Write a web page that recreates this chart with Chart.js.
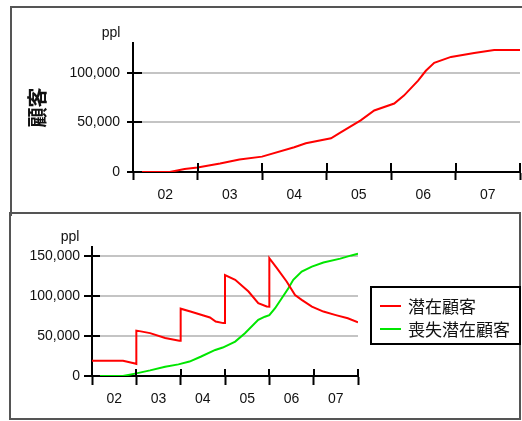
<!DOCTYPE html>
<html lang="ja">
  <head>
    <meta charset="UTF-8" />
    <title>顧客</title>
    <style>
      html, body {
        margin: 0;
        padding: 0;
        background: #fff;
      }
      body {
        position: relative;
        width: 522px;
        height: 421px;
        overflow: hidden;
      }
      canvas {
        position: absolute;
        left: 0;
      }
      #topChart { top: 0; }
      #bottomChart { top: 213px; }

      .panel {
        position: absolute;
        border: 2px solid #555;
        box-sizing: border-box;
        pointer-events: none;
      }
      #topPanel { left: 10px; top: 6px; width: 560px; height: 210px; border-bottom: none; }
      #bottomPanel { left: 9px; top: 212px; width: 512px; height: 208px; }

      #legend {
        position: absolute;
        left: 370px;
        top: 286px;
        width: 151px;
        height: 59px;
        border: 2px solid #000;
        box-sizing: border-box;
        padding-top: 6px;
        font-family: "Noto Sans CJK JP", sans-serif;
        font-size: 17px;
        color: #111;
      }
      #legend .row {
        display: flex;
        align-items: center;
        height: 23px;
      }
      #legend .swatch {
        display: inline-block;
        width: 21px;
        height: 2px;
        margin-left: 8px;
        margin-right: 7px;
      }
    </style>
  </head>

  <body>
    <canvas id="topChart" width="522" height="212"></canvas>
    <canvas id="bottomChart" width="522" height="208"></canvas>
    <div class="panel" id="topPanel"></div>
    <div class="panel" id="bottomPanel"></div>
    <div id="legend"></div>

    <script src="https://cdn.jsdelivr.net/npm/chart.js@4/dist/chart.umd.min.js"></script>

    <script>
      // period labels, centred between the tick marks
      const xLabels = ["02", "03", "04", "05", "06", "07"];

      // y tick values of each chart
      const topYTicks = [0, 50000, 100000];
      const bottomYTicks = [0, 50000, 100000, 150000];

      // top chart: 顧客
      const topTime = [0, 0.57, 0.8, 1.0, 1.35, 1.65, 2.0, 2.5, 2.68, 3.07, 3.22, 3.53, 3.74, 4.05, 4.2, 4.42, 4.54, 4.67, 4.93, 5.29, 5.6, 6];
      const topCustomers = [0, 0, 3000, 4500, 8500, 12500, 15500, 25000, 29000, 34000, 40000, 52000, 62000, 69000, 77000, 92000, 102000, 110000, 116000, 120000, 123000, 123000];

      // bottom chart: 潜在顧客
      const potentialTime = [0, 0.7, 0.97, 1.0, 1.0, 1.07, 1.31, 1.65, 1.97, 2.0, 2.0, 2.22, 2.66, 2.79, 2.96, 3.0, 3.0, 3.23, 3.53, 3.75, 3.94, 4.0, 4.0, 4.17, 4.39, 4.58, 4.73, 4.96, 5.22, 5.5, 5.77, 6.0];
      const potentialCustomers = [19000, 19000, 15500, 15000, 56500, 56000, 53500, 47500, 44000, 44000, 84000, 80500, 73000, 68000, 66000, 66000, 126000, 120000, 105400, 90800, 86700, 86500, 147000, 134600, 118000, 101000, 95000, 86600, 80400, 76000, 72000, 67000];

      // bottom chart: 喪失潜在顧客
      const lostTime = [0, 0.7, 1.0, 1.31, 1.65, 1.95, 2.2, 2.45, 2.78, 2.95, 3.23, 3.45, 3.75, 3.9, 4.0, 4.13, 4.28, 4.43, 4.54, 4.73, 4.96, 5.22, 5.6, 5.85, 6.0];
      const lostCustomers = [0, 0, 3300, 7000, 11500, 14500, 18000, 24000, 32500, 35500, 43000, 53300, 70000, 74000, 76000, 84600, 97000, 109600, 120000, 130400, 136600, 141600, 146500, 150500, 152500];

      const seriesNames = ["潜在顧客", "喪失潜在顧客"];
      const seriesColors = ["#ff0000", "#00e600"];

      const tickFont = { family: "'Liberation Sans', Arial, sans-serif", size: 14 };

      function points(xs, ys) {
        return xs.map((x, i) => ({ x: x, y: ys[i] }));
      }

      // tick marks that cross the axes (the library only draws the outside half)
      const crossTicks = {
        id: "crossTicks",
        afterDraw(chart, args, opts) {
          const { ctx, chartArea: a, scales } = chart;
          ctx.save();
          ctx.strokeStyle = "#000";
          ctx.lineWidth = 2;
          ctx.beginPath();
          scales.x.ticks.forEach((t) => {
            if (t.value % 1 !== 0) return;
            const px = Math.round(scales.x.getPixelForValue(t.value));
            ctx.moveTo(px, a.bottom);
            ctx.lineTo(px, a.bottom - opts.xIn);
          });
          scales.y.ticks.forEach((t) => {
            const py = Math.round(scales.y.getPixelForValue(t.value));
            ctx.moveTo(a.left, py);
            ctx.lineTo(a.left + opts.yIn, py);
          });
          ctx.stroke();
          ctx.fillStyle = "#111";
          ctx.font = "14px 'Liberation Sans', Arial, sans-serif";
          ctx.textAlign = "center";
          ctx.textBaseline = "middle";
          ctx.fillText("ppl", a.left - 22, a.top - 10);
          ctx.restore();
        },
      };

      function xAxis(height, tickOut, pad) {
        return {
          type: "linear",
          min: 0,
          max: 6,
          afterFit: (s) => {
            s.height = height;
            s.paddingLeft = 0;
            s.paddingRight = 0;
          },
          ticks: {
            stepSize: 0.5,
            autoSkip: false,
            maxRotation: 0,
            padding: pad,
            font: tickFont,
            color: "#111",
            callback: (v) => (v % 1 ? xLabels[Math.floor(v)] : ""),
          },
          grid: {
            drawOnChartArea: false,
            drawTicks: true,
            tickLength: tickOut,
            tickWidth: 2,
            tickColor: (c) => (c.tick && c.tick.value % 1 === 0 ? "#000" : "rgba(0,0,0,0)"),
          },
          border: { display: true, color: "#000", width: 2 },
        };
      }

      function yAxis(max, tickValues, width, tickOut, pad) {
        return {
          min: 0,
          max: max,
          afterFit: (s) => { s.width = width; },
          afterBuildTicks: (s) => {
            s.ticks = tickValues.map((v) => ({ value: v }));
          },
          ticks: {
            padding: pad,
            font: tickFont,
            color: "#111",
            callback: (v) => Number(v).toLocaleString("en-US"),
          },
          grid: {
            color: "#c4c4c4",
            lineWidth: 2,
            tickColor: "#000",
            tickWidth: 2,
            tickLength: tickOut,
          },
          border: { display: true, color: "#000", width: 2 },
        };
      }

      const lineStyle = { borderWidth: 2, pointRadius: 0, tension: 0, fill: false };

      let topY = yAxis(130000, topYTicks, 112, 6, 7);
      topY.title = {
        display: true,
        text: "顧客",
        color: "#111",
        font: { family: "'Noto Sans CJK JP', sans-serif", size: 20, weight: "bold" },
        padding: { top: 4, bottom: 0 },
      };

      new Chart("topChart", {
        type: "line",
        data: {
          datasets: [
            Object.assign({ label: "顧客", data: points(topTime, topCustomers), borderColor: seriesColors[0] }, lineStyle),
          ],
        },
        options: {
          responsive: false,
          animation: false,
          layout: { padding: { left: 21, top: 43, right: 2, bottom: 0 } },
          scales: { x: xAxis(40, 8, 7), y: topY },
          plugins: { legend: { display: false }, tooltip: { enabled: false }, crossTicks: { xIn: 9, yIn: 9 } },
        },
        plugins: [crossTicks],
      });

      new Chart("bottomChart", {
        type: "line",
        data: {
          datasets: [
            Object.assign({ label: seriesNames[0], data: points(potentialTime, potentialCustomers), borderColor: seriesColors[0] }, lineStyle),
            Object.assign({ label: seriesNames[1], data: points(lostTime, lostCustomers), borderColor: seriesColors[1] }, lineStyle),
          ],
        },
        options: {
          responsive: false,
          animation: false,
          layout: { padding: { left: 0, top: 34, right: 164, bottom: 0 } },
          scales: { x: xAxis(45, 9, 6), y: yAxis(161000, bottomYTicks, 92, 8, 4) },
          plugins: { legend: { display: false }, tooltip: { enabled: false }, crossTicks: { xIn: 7, yIn: 8 } },
        },
        plugins: [crossTicks],
      });

      // legend box
      let legend = document.getElementById("legend");
      seriesNames.forEach((name, i) => {
        let row = document.createElement("div");
        row.className = "row";
        let sw = document.createElement("span");
        sw.className = "swatch";
        sw.style.background = seriesColors[i];
        row.appendChild(sw);
        row.appendChild(document.createTextNode(name));
        legend.appendChild(row);
      });
    </script>
  </body>
</html>
